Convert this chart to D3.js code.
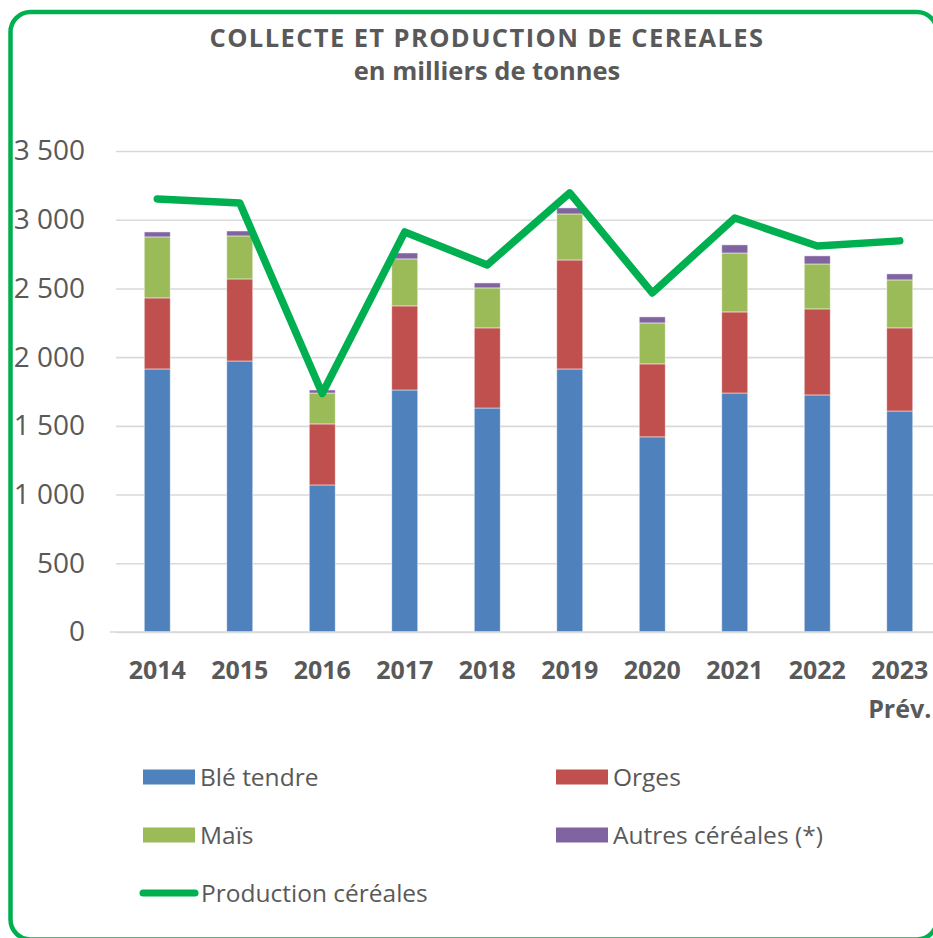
<!DOCTYPE html>
<html>
<head>
<meta charset="utf-8">
<script src="https://cdnjs.cloudflare.com/ajax/libs/d3/7.8.5/d3.min.js"></script>
<style>
  body { margin: 0; background: #fff; }
  text { font-family: "Open Sans", sans-serif; fill: #595959; }
</style>
</head>
<body>
<div id="chart"></div>
<script>
// data (milliers de tonnes)
const years = ['2014', '2015', '2016', '2017', '2018', '2019', '2020', '2021', '2022', '2023'];
const subLabels = ['', '', '', '', '', '', '', '', '', 'Prév.'];
const bleTendre = [1914, 1972, 1070, 1761, 1630, 1914, 1420, 1739, 1725, 1608];
const orges = [517, 597, 444, 612, 583, 793, 531, 590, 626, 605];
const mais = [444, 313, 225, 342, 291, 335, 298, 429, 327, 349];
const autres = [36, 36, 22, 43, 36, 44, 44, 59, 59, 44];
const production = [3151, 3122, 1735, 2911, 2671, 3195, 2467, 3013, 2809, 2846];
const yTicks = [0, 500, 1000, 1500, 2000, 2500, 3000, 3500];

const seriesNames = ['Blé tendre', 'Orges', 'Maïs', 'Autres céréales (*)'];
const seriesColors = ['#4f81bd', '#c0504d', '#9bbb59', '#8064a2'];
const lineName = 'Production céréales';
const lineColor = '#00b050';

const width = 933, height = 938;
const plot = { left: 116, right: 941, top: 151, bottom: 632 };

const svg = d3.select('#chart')
  .append('svg')
  .attr('width', width)
  .attr('height', height);

// green frame (right and bottom edges run just past the window)
svg.append('rect')
  .attr('x', 10.5)
  .attr('y', 12)
  .attr('width', 926.5)
  .attr('height', 927.5)
  .attr('rx', 20)
  .attr('fill', 'none')
  .attr('stroke', lineColor)
  .attr('stroke-width', 4.5);

// titles
svg.append('text')
  .attr('x', 487)
  .attr('y', 47)
  .attr('text-anchor', 'middle')
  .attr('font-size', 25.5)
  .attr('font-weight', 700)
  .attr('letter-spacing', 1.4)
  .text('COLLECTE ET PRODUCTION DE CEREALES');

svg.append('text')
  .attr('x', 487)
  .attr('y', 80)
  .attr('text-anchor', 'middle')
  .attr('font-size', 25.5)
  .attr('font-weight', 700)
  .text('en milliers de tonnes');

// scales
const x = d3.scaleBand()
  .domain(years)
  .range([plot.left, plot.right])
  .paddingInner(0.685)
  .paddingOuter(0.3425);

const y = d3.scaleLinear()
  .domain([0, 3500])
  .range([plot.bottom, plot.top]);

const fmt = d3.formatLocale({ decimal: ',', thousands: '\u00a0', grouping: [3], currency: ['', '€'] }).format(',d');

// y axis + gridlines
const yAxisGroup = svg.append('g')
  .attr('transform', `translate(${plot.left},0)`)
  .call(d3.axisLeft(y)
    .tickValues(yTicks)
    .tickSize(-(width - plot.left))
    .tickPadding(31)
    .tickFormat(fmt));

yAxisGroup.select('.domain').remove();
yAxisGroup.selectAll('line')
  .attr('stroke', '#d9d9d9')
  .attr('stroke-width', 1.6);
yAxisGroup.selectAll('text')
  .attr('font-size', 28)
  .attr('fill', '#595959')
  .style('font-family', '"Open Sans", sans-serif');

// stacked bars
const table = years.map((yr, i) => ({
  year: yr,
  'Blé tendre': bleTendre[i],
  'Orges': orges[i],
  'Maïs': mais[i],
  'Autres céréales (*)': autres[i]
}));

const stack = d3.stack().keys(seriesNames);
const stacked = stack(table);

const layers = svg.append('g')
  .selectAll('g')
  .data(stacked)
  .enter()
  .append('g')
    .attr('fill', (d, i) => seriesColors[i]);

layers.selectAll('rect')
  .data(d => d)
  .enter()
  .append('rect')
    .attr('x', d => x(d.data.year))
    .attr('width', x.bandwidth())
    .attr('y', d => y(d[1]))
    .attr('height', d => y(d[0]) - y(d[1]))
    .attr('stroke', 'rgba(255,255,255,0.6)')
    .attr('stroke-width', 0.8);

// x axis
const xAxisGroup = svg.append('g')
  .attr('transform', `translate(0,${plot.bottom})`)
  .call(d3.axisBottom(x).tickSize(0));

xAxisGroup.select('.domain')
  .attr('stroke', '#d9d9d9')
  .attr('stroke-width', 1.6)
  .attr('d', `M${plot.left - 6},0H${width}`);

xAxisGroup.selectAll('text')
  .attr('y', 47)
  .attr('dy', 0)
  .attr('font-size', 25)
  .attr('font-weight', 700)
  .attr('fill', '#595959')
  .style('font-family', '"Open Sans", sans-serif');

xAxisGroup.selectAll('.tick')
  .append('text')
  .attr('y', 86)
  .attr('text-anchor', 'middle')
  .attr('font-size', 25)
  .attr('font-weight', 700)
  .attr('fill', '#595959')
  .style('font-family', '"Open Sans", sans-serif')
  .text((d, i) => subLabels[i]);

// production line
const line = d3.line()
  .x((d, i) => x(years[i]) + x.bandwidth() / 2)
  .y(d => y(d));

svg.append('path')
  .datum(production)
  .attr('fill', 'none')
  .attr('stroke', lineColor)
  .attr('stroke-width', 7.5)
  .attr('stroke-linejoin', 'round')
  .attr('stroke-linecap', 'round')
  .attr('d', line);

// legend
const legendItems = [
  { name: seriesNames[0], color: seriesColors[0], x: 143, y: 777 },
  { name: seriesNames[1], color: seriesColors[1], x: 556, y: 777 },
  { name: seriesNames[2], color: seriesColors[2], x: 143, y: 835 },
  { name: seriesNames[3], color: seriesColors[3], x: 556, y: 835 }
];

const legend = svg.append('g');

legend.selectAll('rect')
  .data(legendItems)
  .enter()
  .append('rect')
    .attr('x', d => d.x)
    .attr('y', d => d.y - 7.5)
    .attr('width', 52)
    .attr('height', 15)
    .attr('fill', d => d.color);

legend.selectAll('text.item')
  .data(legendItems)
  .enter()
  .append('text')
    .attr('class', 'item')
    .attr('x', d => d.x + 57)
    .attr('y', d => d.y)
    .attr('dy', '0.36em')
    .attr('font-size', 24.5)
    .text(d => d.name);

legend.append('line')
  .attr('x1', 143)
  .attr('x2', 195)
  .attr('y1', 893)
  .attr('y2', 893)
  .attr('stroke', lineColor)
  .attr('stroke-width', 7)
  .attr('stroke-linecap', 'round');

legend.append('text')
  .attr('x', 201)
  .attr('y', 893)
  .attr('dy', '0.36em')
  .attr('font-size', 24.5)
  .text(lineName);
</script>
</body>
</html>
